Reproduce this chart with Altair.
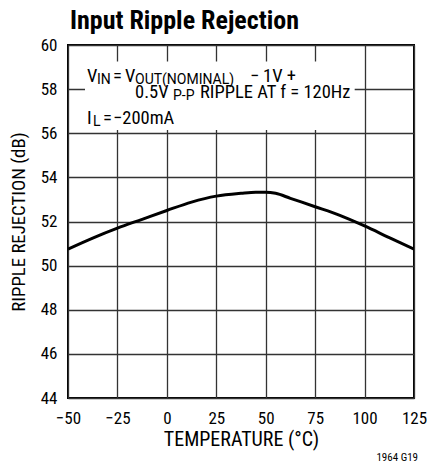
import altair as alt
import pandas as pd

temps = [-50, -37.5, -25, -12.5, 0, 12.5, 25, 37.5, 45, 50, 55, 62.5, 75, 87.5, 100, 112.5, 125]
rejection = [50.75, 51.25, 51.7, 52.1, 52.5, 52.88, 53.15, 53.28, 53.33, 53.33, 53.28, 53.05,
             52.67, 52.28, 51.8, 51.27, 50.75]
x_ticks = [-50, -25, 0, 25, 50, 75, 100, 125]
y_ticks = [44, 46, 48, 50, 52, 54, 56, 58, 60]

FONT = "Roboto Condensed, Liberation Sans Narrow, Roboto, sans-serif"
SUBFONT = "Roboto, sans-serif"

df = pd.DataFrame({"t": temps, "r": rejection})

xs = alt.Scale(domain=[-50, 125], nice=False, zero=False)
ys = alt.Scale(domain=[44, 60], nice=False, zero=False)

line = alt.Chart(df).mark_line(color="black", strokeWidth=3, interpolate="monotone", clip=True).encode(
    x=alt.X("t:Q", scale=xs, axis=alt.Axis(
        values=x_ticks, title="TEMPERATURE (°C)", grid=True, gridColor="#333", gridWidth=1.3,
        ticks=False, domain=False, labelPadding=12, titlePadding=3, labelFlush=False,
        titleFontSize=20)),
    y=alt.Y("r:Q", scale=ys, axis=alt.Axis(
        values=y_ticks, title="RIPPLE REJECTION (dB)", grid=True, gridColor="#333", gridWidth=1.3,
        ticks=False, domain=False, labelPadding=11, titlePadding=12, labelFlush=False,
        titleFontSize=18.8)),
)

mask_df = pd.DataFrame({"x1": [-41.4], "x2": [95], "y1": [56.15], "y2": [59.25]})
mask = alt.Chart(mask_df).mark_rect(color="white").encode(
    x=alt.X("x1:Q", scale=xs), x2="x2:Q", y=alt.Y("y1:Q", scale=ys), y2="y2:Q")

def txt(s, x, y, size=15, align="left", font=FONT):
    return alt.Chart(pd.DataFrame({"a": [0]})).mark_text(
        text=s, align=align, baseline="alphabetic", font=font, fontSize=size, color="black"
    ).encode(x=alt.value(x), y=alt.value(y))

MAIN = 18.5
SUB = 14
L1, L2, L3 = 37, 53, 79
annots = [
    txt("V", 19, L1, MAIN), txt("IN", 29, L1 + 2, SUB, font=SUBFONT),
    txt("=", 45, L1, MAIN), txt("V", 57, L1, MAIN),
    txt("OUT(NOMINAL)", 67, L1 + 2, SUB, font=SUBFONT),
    txt("−", 182, L1, MAIN), txt("1V +", 195, L1, MAIN),
    txt("0.5V", 67, L2, MAIN), txt("P-P", 105, L2 + 2, SUB, font=SUBFONT),
    txt("RIPPLE AT f = 120Hz", 132, L2, MAIN),
    txt("I", 19, L3, MAIN), txt("L", 25, L3 + 2, SUB, font=SUBFONT),
    txt("=", 35, L3, MAIN), txt("−200mA", 45, L3, MAIN),
    txt("1964 G19", 350, 416, 11, "right"),
]

chart = alt.layer(mask, line, *annots).properties(
    width=346, height=353,
    autosize=alt.AutoSizeParams(type="none"),
    padding={"left": 60, "top": 37, "right": 13, "bottom": 65},
    title=alt.TitleParams("Input Ripple Rejection", anchor="start", frame="group", fontSize=26,
                          font=FONT, fontWeight="bold", offset=2, dx=2, color="black"),
).configure_view(stroke="black", strokeWidth=2).configure_axis(
    labelFont=FONT, titleFont=FONT, labelFontSize=17,
    labelColor="black", titleColor="black", titleFontWeight="normal"
)

chart.save("out.html", embed_options={"renderer": "svg", "actions": False})
